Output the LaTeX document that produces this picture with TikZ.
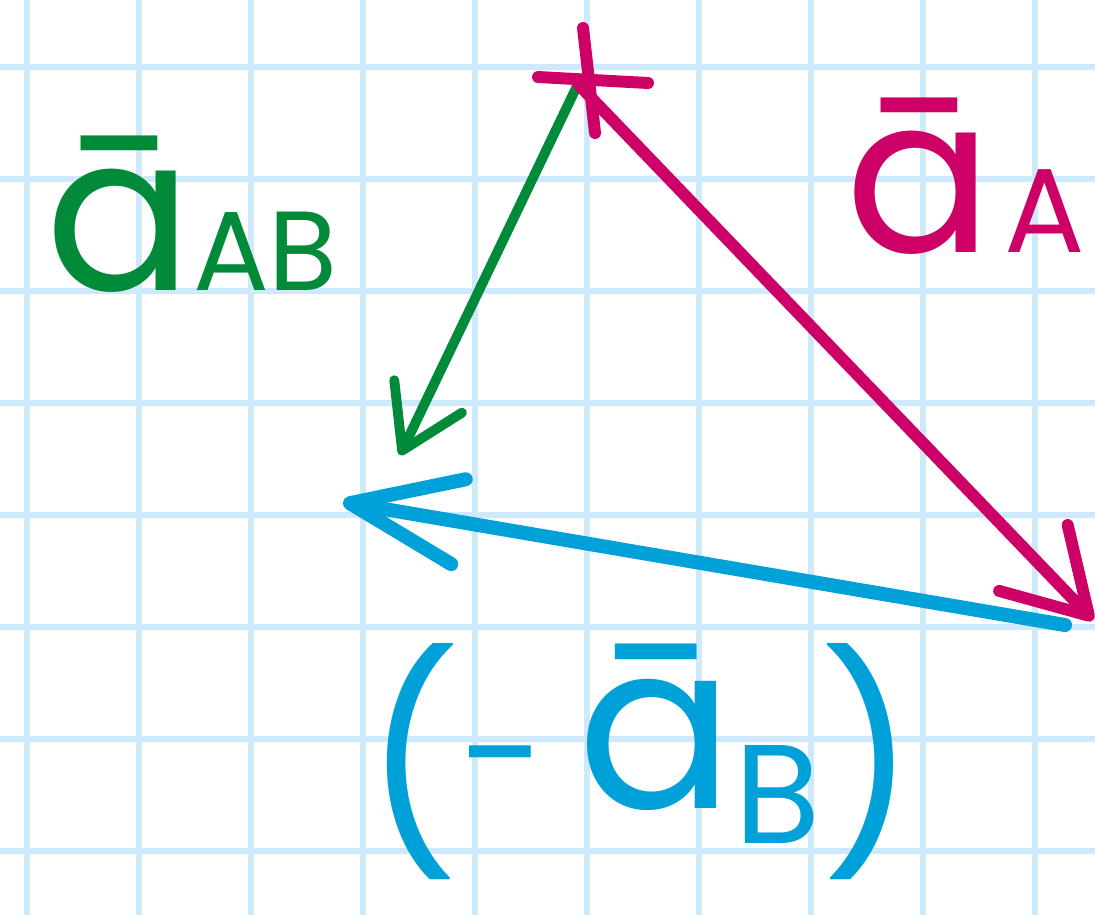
\documentclass[tikz,border=0pt]{standalone}
\usepackage{fontspec}
\setmainfont{Poppins}
\usepackage{xcolor}
\usepackage{tikz}
\usetikzlibrary{arrows.meta}
\definecolor{penGreen}{RGB}{0,138,58}
\definecolor{penMag}{RGB}{204,0,102}
\definecolor{penBlue}{RGB}{0,160,216}
\definecolor{paperline}{RGB}{206,233,251}
\tikzset{
  gridline/.style ={paperline,line width=1.7pt},
  vecab/.style    ={penGreen,line width=2.8pt,line cap=round,-{Straight Barb[length=6mm,width=7.5mm,round]}},
  veca/.style     ={penMag,line width=3.4pt,line cap=round,-{Straight Barb[length=8mm,width=9.5mm,round]}},
  vecb/.style     ={penBlue,line width=4pt,line cap=round,-{Straight Barb[length=11mm,width=8.6mm,round]}},
  crossmark/.style={penMag,line width=3.4pt,line cap=round},
  lab/.style      ={inner sep=0pt,anchor=base west},
}

\begin{document}
\begin{tikzpicture}[x=0.01cm,y=-0.01cm]
  \useasboundingbox (0,0) rectangle (1095,915);
  \fill[white] (0,0) rectangle (1095,915);
  \foreach \x in {27,139,...,1035}{\draw[gridline](\x,0)--(\x,915);}
  \foreach \y in {67,179,...,851}{\draw[gridline](0,\y)--(1095,\y);}
  % triangle corners
  \coordinate (top) at (578,84);
  \coordinate (gtip) at (400,455);
  \coordinate (btip) at (343,502);
  \coordinate (bstart) at (1065,625);
  \coordinate (mtip) at (1093,620);
  \draw[vecab](top)--(gtip);
  \draw[veca](top)--(mtip);
  \draw[vecb](bstart)--(btip);
  \draw[crossmark](583,28)--(595,133);
  \draw[crossmark](538,77)--(648,83);
  % labels
  \node[lab,penGreen,font=\fontsize{62}{62}\selectfont](labAB) at (45,290){ā{\fontsize{32}{32}\selectfont AB}};
  \node[lab,penMag,font=\fontsize{62}{62}\selectfont](labA) at (845,252){ā\kern0.05em{\fontsize{34}{34}\selectfont A}};
  \node[lab,penBlue,font=\fontsize{60}{60}\selectfont](labB) at (364,840){(\raisebox{9pt}{{\fontsize{44}{44}\selectfont -}\kern0.15em{\fontsize{66}{66}\selectfont ā}\raisebox{-10pt}{\fontsize{40}{40}\selectfont B}})};
\end{tikzpicture}
\end{document}
